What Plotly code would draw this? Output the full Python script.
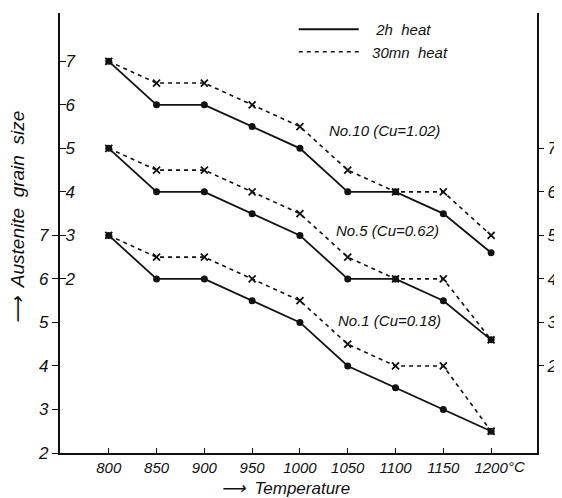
import plotly.graph_objects as go

temps = [800, 850, 900, 950, 1000, 1050, 1100, 1150, 1200]
tick_text = ["800", "850", "900", "950", "1000", "1050", "1100", "1150", "1200"]
unit_text = "°C"

no10_2h = [7.0, 6.0, 6.0, 5.5, 5.0, 4.0, 4.0, 3.5, 2.6]
no10_30mn = [7.0, 6.5, 6.5, 6.0, 5.5, 4.5, 4.0, 4.0, 3.0]
no5_2h = [7.0, 6.0, 6.0, 5.5, 5.0, 4.0, 4.0, 3.5, 2.6]
no5_30mn = [7.0, 6.5, 6.5, 6.0, 5.5, 4.5, 4.0, 4.0, 2.6]
no1_2h = [7.0, 6.0, 6.0, 5.5, 5.0, 4.0, 3.5, 3.0, 2.5]
no1_30mn = [7.0, 6.5, 6.5, 6.0, 5.5, 4.5, 4.0, 4.0, 2.5]

grain_ticks = [2, 3, 4, 5, 6, 7]

FONT = "Liberation Sans, Arial"
BLACK = "#111111"

fig = go.Figure()

def add_pair(solid, dashed, yref):
    fig.add_trace(go.Scatter(
        x=temps, y=dashed, yaxis=yref, mode="lines+markers", showlegend=False,
        line=dict(color=BLACK, width=1.6, dash="4px,4px"),
        marker=dict(symbol="x-thin", size=7, line=dict(color=BLACK, width=1.8), color=BLACK)))
    fig.add_trace(go.Scatter(
        x=temps, y=solid, yaxis=yref, mode="lines+markers", showlegend=False,
        line=dict(color=BLACK, width=1.8),
        marker=dict(symbol="circle", size=7, color=BLACK)))

add_pair(no1_2h, no1_30mn, "y")
add_pair(no5_2h, no5_30mn, "y3")
add_pair(no10_2h, no10_30mn, "y2")

# legend-only entries
fig.add_trace(go.Scatter(x=[None], y=[None], mode="lines", name="\u00a0\u00a0\u00a02h  heat",
                         line=dict(color=BLACK, width=1.8)))
fig.add_trace(go.Scatter(x=[None], y=[None], mode="lines", name="\u00a0\u00a030mn  heat",
                         line=dict(color=BLACK, width=1.4, dash="4px,4px")))

YTOP = 12.11
tickfont = dict(family=FONT, size=17, color=BLACK, style="italic")

# page body has an 8px margin; size the figure so the plot area lands where the reference has it
fig.update_layout(
    width=554, height=490,
    margin=dict(l=52, r=25, t=5, b=45, autoexpand=False),
    paper_bgcolor="white", plot_bgcolor="white",
    font=dict(family=FONT, color=BLACK),
    xaxis=dict(range=[749, 1248], tickvals=temps, ticktext=tick_text, tickangle=0,
               automargin=False,
               showgrid=False, zeroline=False, showline=True, linecolor=BLACK, linewidth=1.5,
               ticks="inside", ticklen=5, tickcolor=BLACK,
               tickfont=dict(family=FONT, size=15, color=BLACK, style="italic")),
    yaxis=dict(range=[2, YTOP], tickvals=grain_ticks, showgrid=False, zeroline=False,
               automargin=False,
               showline=True, linecolor=BLACK, linewidth=2.2,
               ticks="outside", ticklen=6, tickcolor=BLACK, tickfont=tickfont),
    yaxis2=dict(range=[2 - 4, YTOP - 4], tickvals=grain_ticks, overlaying="y", side="left",
                anchor="x", showgrid=False, zeroline=False, showline=False, automargin=False,
                ticks="inside", ticklen=6, tickcolor=BLACK,
                ticklabelposition="inside", tickfont=tickfont),
    yaxis3=dict(range=[2 - 2, YTOP - 2], tickvals=grain_ticks, overlaying="y", side="right",
                anchor="x", showgrid=False, zeroline=False, showline=True, automargin=False,
                linecolor=BLACK, linewidth=2.2,
                ticks="outside", ticklen=5, tickcolor=BLACK, tickfont=tickfont),
    legend=dict(x=0.49, y=1.0, xanchor="left", yanchor="top", bgcolor="rgba(0,0,0,0)",
                itemwidth=60, tracegroupgap=0,
                font=dict(family=FONT, size=15, color=BLACK, style="italic")),
)

ann_font = dict(family=FONT, size=15, color=BLACK, style="italic")
fig.add_annotation(x=1088, y=5.41, xref="x", yref="y2", text="No.10 (Cu=1.02)",
                   showarrow=False, font=ann_font, xanchor="center")
fig.add_annotation(x=1092, y=5.11, xref="x", yref="y3", text="No.5 (Cu=0.62)",
                   showarrow=False, font=ann_font, xanchor="center")
fig.add_annotation(x=1094, y=5.05, xref="x", yref="y", text="No.1 (Cu=0.18)",
                   showarrow=False, font=ann_font, xanchor="center")

# unit after the last tick label
fig.add_annotation(x=temps[-1], y=-(466 - 453) / 440, xref="x", yref="paper", text=unit_text,
                   showarrow=False, xanchor="left", yanchor="middle", xshift=15,
                   font=dict(family=FONT, size=15, color=BLACK, style="italic"))

fig.add_annotation(x=(17 - 60) / 477, y=(453 - 218) / 440, xref="paper", yref="paper",
                   text="⟶  Austenite  grain  size", showarrow=False, textangle=-90,
                   xanchor="center", yanchor="middle",
                   font=dict(family=FONT, size=19, color=BLACK, style="italic"))
fig.add_annotation(x=(285 - 60) / 477, y=-(488 - 453) / 440, xref="paper", yref="paper",
                   text="⟶  Temperature", showarrow=False, xanchor="center", yanchor="middle",
                   font=dict(family=FONT, size=17, color=BLACK, style="italic"))

fig.write_html("out.html")
